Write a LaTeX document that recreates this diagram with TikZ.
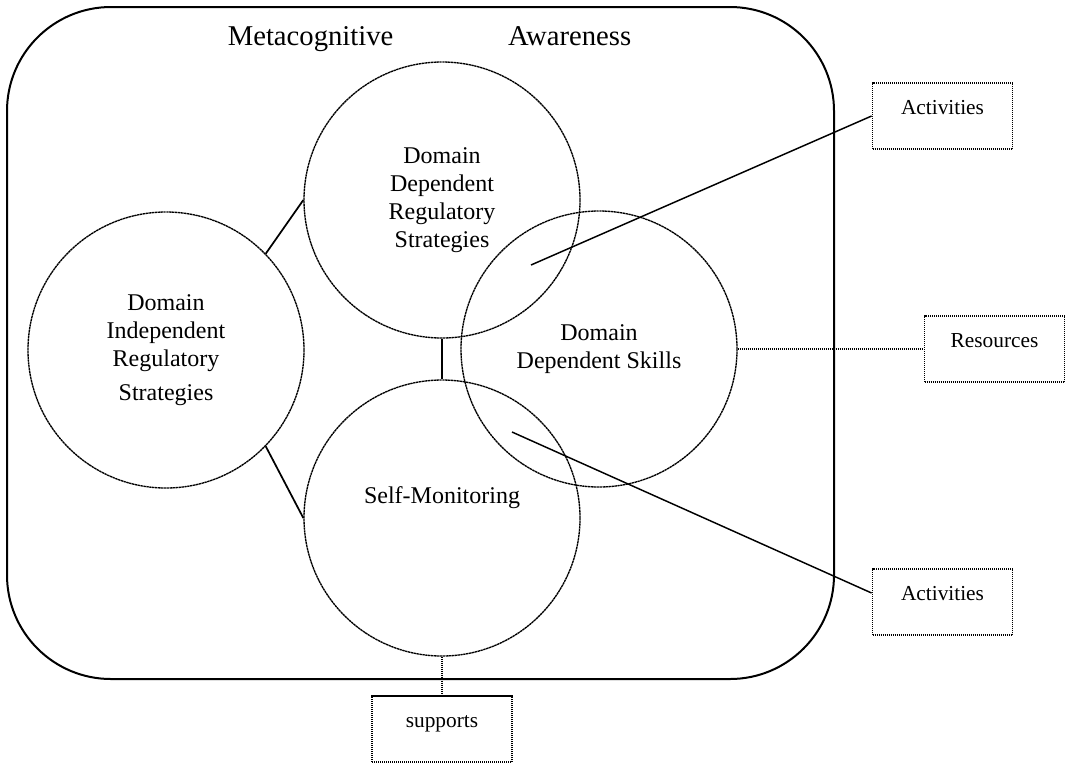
\documentclass[tikz,border=0pt]{standalone}
\usepackage{fontspec}
\setmainfont{Liberation Serif}
\usetikzlibrary{positioning}

\begin{document}
\begin{tikzpicture}[
    x=0.75pt, y=-0.75pt,
    frame/.style={
        draw,
        line width=1.5pt,
        rounded corners=78pt,
    },
    topic/.style={
        circle,
        draw,
        line width=1pt,
        dash pattern=on 1.8pt off 0.4pt,
        minimum size=207pt,
        inner sep=0pt,
        align=center,
        font=\fontsize{18}{21}\selectfont,
    },
    extra/.style={
        rectangle,
        draw,
        line width=1.4pt,
        dash pattern=on 1pt off 0.5pt,
        minimum width=105pt,
        minimum height=50pt,
        font=\fontsize{16}{19}\selectfont,
        text height=0.7em,
        text depth=0.95em,
    },
    link/.style={
        line width=1.3pt,
    },
    pointer/.style={
        line width=1.1pt,
    },
    dotlink/.style={
        line width=1.1pt,
        dash pattern=on 1pt off 0.5pt,
    }
]
    \useasboundingbox (0,0) rectangle (1069,765);

    % Frame
    \draw[frame] (7,7) rectangle (834,679);
    \node[anchor=base, font=\fontsize{21.5}{25}\selectfont] (title) at (429.5,45)
        {Metacognitive\hspace{86pt}Awareness};

    % Circles
    \node[topic] (ddrs) at (442,200) {Domain\\Dependent\\Regulatory\\Strategies};
    \node[topic] (dirs) at (166,350) {Domain\\Independent\\Regulatory\\[5pt]Strategies};
    \node[topic] (dds) at (599,349) {Domain\\Dependent Skills};
    \node[topic, text depth=34pt] (sm) at (442,518) {Self-Monitoring};

    % Boxes
    \node[extra] (act1) at (942.5,116) {Activities};
    \node[extra] (res) at (994.5,349) {Resources};
    \node[extra] (act2) at (942.5,602) {Activities};
    \node[extra] (sup) at (442,729) {supports};

    % Links between circles
    \draw[link] (dirs.44) -- (ddrs.west);
    \draw[link] (dirs.-44) -- (sm.west);
    \draw[link] (ddrs.south) -- (sm.north);

    % Links to boxes
    \coordinate (p1) at (531,265);
    \coordinate (p2) at (512,432);
    \draw[pointer] (p1) -- (act1.west);
    \draw[dotlink] (dds.east) -- (res.west);
    \draw[pointer] (p2) -- ([yshift=6.75pt]act2.west);
    \draw[dotlink] (sm.south) -- (sup.north);
\end{tikzpicture}
\end{document}
